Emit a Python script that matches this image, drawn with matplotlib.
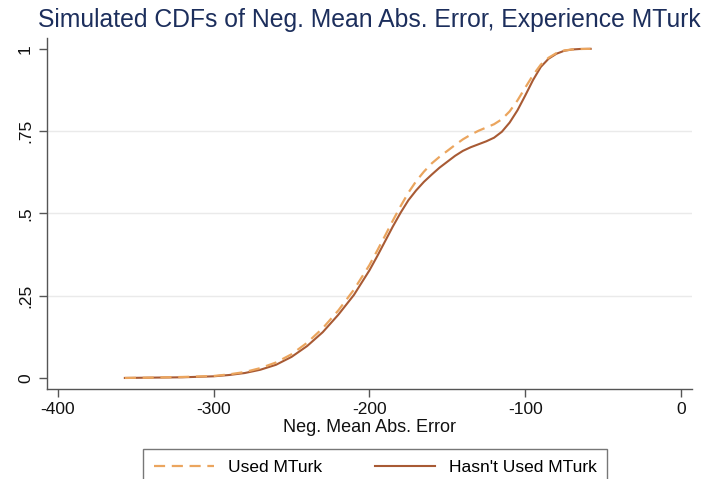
import numpy as np
import matplotlib
matplotlib.use("Agg")
import matplotlib.pyplot as plt

plt.rcParams['font.family'] = ['Liberation Sans', 'DejaVu Sans']
plt.rcParams['axes.unicode_minus'] = False

# error grid (neg. mean abs. error)
x_vals = [-357, -340, -320, -300, -290, -280, -270, -260, -250, -240, -230,
          -220, -210, -200, -195, -190, -185, -180, -175, -170, -165, -160,
          -155, -150, -145, -140, -135, -130, -125, -120, -115, -110, -105,
          -100, -95, -90, -85, -80, -75, -70, -65, -58]

# simulated CDF, respondents who used MTurk
cdf_used = [0.000, 0.001, 0.003, 0.006, 0.011, 0.018, 0.030, 0.047, 0.072,
            0.107, 0.151, 0.205, 0.268, 0.343, 0.387, 0.432, 0.478, 0.522,
            0.563, 0.598, 0.627, 0.652, 0.672, 0.690, 0.708, 0.725, 0.739,
            0.751, 0.761, 0.771, 0.786, 0.810, 0.843, 0.882, 0.920, 0.952,
            0.973, 0.987, 0.995, 0.998, 0.9995, 1.000]

# simulated CDF, respondents who hasn't used MTurk
cdf_not_used = [0.000, 0.001, 0.002, 0.005, 0.009, 0.015, 0.025, 0.040, 0.064,
                0.097, 0.139, 0.192, 0.252, 0.327, 0.370, 0.415, 0.460, 0.502,
                0.540, 0.570, 0.596, 0.618, 0.639, 0.657, 0.675, 0.690, 0.701,
                0.710, 0.719, 0.730, 0.748, 0.776, 0.813, 0.858, 0.905, 0.945,
                0.970, 0.985, 0.994, 0.998, 0.9995, 1.000]

x_ticks = [-400, -300, -200, -100, 0]
x_tick_labels = ['-400', '-300', '-200', '-100', '0']
y_ticks = [0, 0.25, 0.5, 0.75, 1]
y_tick_labels = ['0', '.25', '.5', '.75', '1']

fig = plt.figure(figsize=(7.15, 4.79), dpi=100)
ax = fig.add_axes([0.0657, 0.188, 0.902, 0.733])

ax.plot(x_vals, cdf_used, color='#EBA55E', lw=1.6, ls=(0, (5, 3)),
        label='Used MTurk', zorder=3)
ax.plot(x_vals, cdf_not_used, color='#A85A34', lw=1.5,
        label="Hasn't Used MTurk", zorder=2)

ax.set_xlim(-407, 7)
ax.set_ylim(-0.0334, 1.0334)
ax.set_xticks(x_ticks)
ax.set_xticklabels(x_tick_labels)
ax.set_yticks(y_ticks)
ax.set_yticklabels(y_tick_labels, rotation=90, va='center')

# light grid at interior y ticks only
for g in [0.25, 0.5, 0.75]:
    ax.axhline(g, color='#EAEAEA', lw=1.0, zorder=0)

for s in ['top', 'right']:
    ax.spines[s].set_visible(False)
for s in ['left', 'bottom']:
    ax.spines[s].set_color('#555555')
    ax.spines[s].set_linewidth(1.0)

ax.tick_params(axis='both', colors='#555555', labelcolor='#111111',
               labelsize=12.5, length=6, width=1.0, direction='out')
ax.tick_params(axis='y', pad=4)

ax.set_xlabel('Neg. Mean Abs. Error', fontsize=13, color='#111111', labelpad=1)
ax.set_title('Simulated CDFs of Neg. Mean Abs. Error, Experience MTurk',
             fontsize=17.8, color='#1C2E5C', pad=8)

leg = fig.legend(loc='upper center', bbox_to_anchor=(0.525, 0.0626), ncol=2,
                 frameon=True, fancybox=False, fontsize=12.5, handlelength=3.5,
                 columnspacing=3.0, borderpad=0.6, handletextpad=0.8,
                 borderaxespad=0)
leg.get_frame().set_edgecolor('#555555')
leg.get_frame().set_linewidth(1.0)

fig.savefig('out.png', dpi=100)
